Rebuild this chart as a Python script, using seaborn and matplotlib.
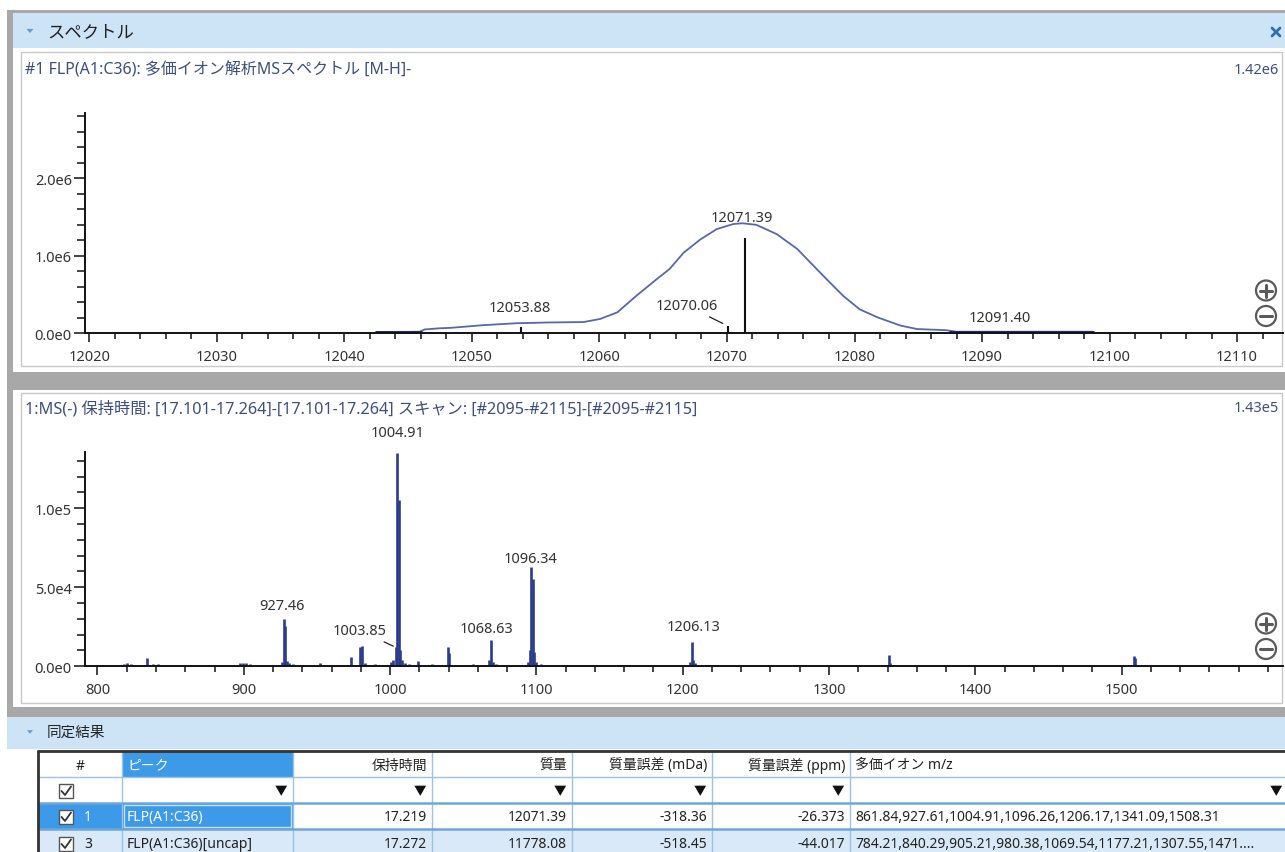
import numpy as np
import matplotlib
matplotlib.use("Agg")
import matplotlib.pyplot as plt
from matplotlib.patches import Rectangle, Circle, Polygon
from matplotlib.ticker import MultipleLocator
import seaborn as sns

# ---------------- data ----------------
deconv_title = "#1 FLP(A1:C36): 多価イオン解析MSスペクトル [M-H]-"
deconv_max_label = "1.42e6"
profile_mass = [12042.5, 12045.9, 12046.3, 12047.5, 12048.3, 12050.9, 12053.5, 12056.1,
                12058.75, 12060.05, 12061.4, 12062.9, 12064.5, 12065.5, 12066.6, 12067.9,
                12069.2, 12070.5, 12071.2, 12072.3, 12073.9, 12075.5, 12076.5, 12077.8,
                12079.1, 12080.4, 12081.8, 12083.6, 12084.9, 12087.2, 12088.0, 12098.7]
profile_intensity = [0.013e6, 0.02e6, 0.05e6, 0.065e6, 0.07e6, 0.105e6, 0.13e6, 0.14e6,
                     0.145e6, 0.185e6, 0.27e6, 0.485e6, 0.70e6, 0.83e6, 1.04e6, 1.21e6,
                     1.345e6, 1.41e6, 1.42e6, 1.40e6, 1.28e6, 1.09e6, 0.92e6, 0.70e6,
                     0.485e6, 0.31e6, 0.206e6, 0.10e6, 0.055e6, 0.04e6, 0.02e6, 0.02e6]
baseline_low_mass = [12042.5, 12046.0]
baseline_low_int = [0.012e6, 0.012e6]
baseline_high_mass = [12087.5, 12098.7]
baseline_high_int = [0.02e6, 0.02e6]
centroid_mass = [12053.88, 12070.06, 12071.39, 12091.40]
centroid_int = [0.08e6, 0.095e6, 1.235e6, 0.02e6]
deconv_xticks = [12020, 12030, 12040, 12050, 12060, 12070, 12080, 12090, 12100, 12110]
deconv_yticks = [0.0, 1.0e6, 2.0e6]
deconv_ytick_labels = ["0.0e0", "1.0e6", "2.0e6"]

ms_title = "1:MS(-) 保持時間: [17.101-17.264]-[17.101-17.264] スキャン: [#2095-#2115]-[#2095-#2115]"
ms_max_label = "1.43e5"
ms_mz = [803.5, 818.0, 820.5, 823.0, 833.6, 838.0, 841.5, 845.0, 861.8, 883.0, 897.5, 899.5,
         901.5, 904.0, 911.0, 920.0, 926.4, 927.46, 928.45, 929.5, 931.0, 933.5, 952.0, 966.8,
         973.3, 979.6, 980.6, 982.5, 990.0, 1000.5, 1002.3, 1003.85, 1004.91, 1005.92, 1006.9,
         1008.3, 1010.0, 1013.0, 1019.3, 1028.6, 1039.3, 1040.3, 1047.8, 1056.8, 1067.4,
         1068.63, 1070.0, 1072.5, 1077.0, 1094.5, 1095.4, 1096.34, 1097.35, 1098.4, 1100.0,
         1103.0, 1110.0, 1177.0, 1205.2, 1206.13, 1207.1, 1208.2, 1241.0, 1307.5, 1340.9,
         1342.0, 1471.0, 1508.4, 1509.4, 1531.0]
ms_int = [800, 1500, 2000, 1200, 5000, 1500, 1200, 1000, 800, 1000, 2000, 2200,
          1800, 1200, 800, 900, 3000, 30000, 25300, 3500, 1800, 1200, 2000, 1000,
          5700, 12000, 12700, 2000, 1200, 2500, 4000, 12000, 135000, 105000, 10500,
          4000, 2000, 1500, 3300, 1200, 12000, 8400, 1000, 1500, 4000,
          16600, 2500, 1500, 1000, 3000, 10000, 63000, 55000, 9000, 3000,
          1500, 1000, 800, 3000, 15200, 4000, 2000, 800, 800, 7200,
          2000, 800, 6500, 5000, 700]
ms_label_mz = [927.46, 1003.85, 1004.91, 1068.63, 1096.34, 1206.13]
ms_xticks = [800, 900, 1000, 1100, 1200, 1300, 1400, 1500]
ms_yticks = [0.0, 5.0e4, 1.0e5]
ms_ytick_labels = ["0.0e0", "5.0e4", "1.0e5"]

table_columns = ["#", "ピーク", "保持時間", "質量", "質量誤差 (mDa)", "質量誤差 (ppm)", "多価イオン m/z"]
row_ids = ["1", "3"]
peak_names = ["FLP(A1:C36)", "FLP(A1:C36)[uncap]"]
ret_times = ["17.219", "17.272"]
masses = ["12071.39", "11778.08"]
err_mda = ["-318.36", "-518.45"]
err_ppm = ["-26.373", "-44.017"]
ion_mz = ["861.84,927.61,1004.91,1096.26,1206.17,1341.09,1508.31",
          "784.21,840.29,905.21,980.38,1069.54,1177.21,1307.55,1471...."]

# ---------------- style ----------------
sns.set_theme(style="white")
plt.rcParams["font.family"] = ["Noto Sans", "Noto Sans CJK JP", "DejaVu Sans"]
plt.rcParams["axes.unicode_minus"] = False

W, H = 1285, 853
fig = plt.figure(figsize=(W / 100, H / 100), dpi=100)
fig.patch.set_facecolor("white")

ui = fig.add_axes([0, 0, 1, 1], zorder=0)
ui.set_xlim(0, W)
ui.set_ylim(H, 0)
ui.axis("off")

GRAY = "#a8a8a8"
HDR = "#cde4f7"
TXT = "#222222"
TITLE_C = "#3c4f7e"


def rect(x0, y0, x1, y1, fc, ec="none", lw=0.0, z=1):
    ui.add_patch(Rectangle((x0, y0), x1 - x0, y1 - y0, facecolor=fc, edgecolor=ec, lw=lw, zorder=z))


def tri_down(cx, cy, s, color):
    ui.add_patch(Polygon([[cx - s, cy - s * 0.6], [cx + s, cy - s * 0.6], [cx, cy + s * 0.6]],
                         closed=True, facecolor=color, edgecolor="none", zorder=5))


# outer frame and headers
rect(7, 11, W, 718, GRAY)
rect(13, 14, W, 373, "white")
rect(13, 391, W, 708, "white")
rect(13, 14, W, 49, HDR)
rect(21, 53, 1282, 367, "none", ec="#c9c9c9", lw=1.0, z=2)
rect(21, 394, 1282, 704, "none", ec="#c9c9c9", lw=1.0, z=2)
tri_down(30, 32, 3.5, "#6d9bc8")
ui.text(47, 32, "スペクトル", fontsize=12.5, color=TXT, ha="left", va="center",
        family=["Noto Sans CJK JP", "DejaVu Sans"])
# close mark (small bold cross)
ui.plot([1272, 1280], [29, 37], color="#2f6db5", lw=2.0, zorder=6)
ui.plot([1272, 1280], [37, 29], color="#2f6db5", lw=2.0, zorder=6)

rect(7, 718, W, 750, HDR)
tri_down(30, 733, 3.0, "#6d9bc8")
ui.text(47, 733, "同定結果", fontsize=10.5, color=TXT, ha="left", va="center")

# panel titles
ui.text(25, 70, deconv_title, fontsize=11.5, color=TITLE_C, ha="left", va="center")
ui.text(1279, 70, deconv_max_label, fontsize=10.5, color=TITLE_C, ha="right", va="center")
ui.text(25, 409, ms_title, fontsize=11.7, color=TITLE_C, ha="left", va="center")
ui.text(1279, 409, ms_max_label, fontsize=10.5, color=TITLE_C, ha="right", va="center")


def zoom_icons(cx, cy_plus, cy_minus):
    for cy, plus in ((cy_plus, True), (cy_minus, False)):
        ui.add_patch(Circle((cx, cy), 10, facecolor="white", edgecolor="#5a5a5a", lw=1.6, zorder=6))
        ui.plot([cx - 6, cx + 6], [cy, cy], color="#5a5a5a", lw=2.2, zorder=7)
        if plus:
            ui.plot([cx, cx], [cy - 6, cy + 6], color="#5a5a5a", lw=2.2, zorder=7)


zoom_icons(1266, 291.5, 317)
zoom_icons(1266, 624.5, 650)

# ---------------- table ----------------
cols_x = [38, 122, 293, 432, 572, 712, 850, W + 2]
rows_y = [752, 778, 804, 830, 858]
SEL = "#3d9ae8"
ALT = "#d9e9f8"
rect(38, 752, W, 858, "white", z=1)
rect(cols_x[1], rows_y[0], cols_x[2], rows_y[1], SEL, z=2)
rect(cols_x[0], rows_y[2], cols_x[2], rows_y[3], SEL, z=2)
rect(cols_x[1] + 2, rows_y[2] + 2, cols_x[2] - 2, rows_y[3] - 2, "none", ec="#bfe0ff", lw=1.0, z=3)
rect(cols_x[0], rows_y[3], W, rows_y[4], ALT, z=2)
for x in cols_x[1:-1]:
    ui.plot([x, x], [rows_y[0], rows_y[4]], color="#9cc3e6", lw=1.0, zorder=4)
ui.plot([cols_x[0], W], [rows_y[1], rows_y[1]], color="#9cc3e6", lw=1.0, zorder=4)
ui.plot([cols_x[0], W], [rows_y[2], rows_y[2]], color="#6fa6da", lw=1.8, zorder=4)
ui.plot([cols_x[0], W], [rows_y[3], rows_y[3]], color="#6fa6da", lw=1.8, zorder=4)
ui.plot([cols_x[0], W], [rows_y[0], rows_y[0]], color="#333333", lw=2.0, zorder=5)
ui.plot([cols_x[0], cols_x[0]], [rows_y[0], rows_y[4]], color="#333333", lw=2.0, zorder=5)


def checkbox(cx, cy):
    ui.add_patch(Rectangle((cx - 7, cy - 7), 14, 14, facecolor="white", edgecolor="#555555", lw=1.0, zorder=6))
    ui.plot([cx - 4.5, cx - 1, cx + 5], [cy, cy + 4, cy - 4.5], color="#333333", lw=1.3, zorder=7)


def ycen(r):
    return (rows_y[r] + rows_y[r + 1]) / 2 + 1


TFS = 10
# header row
ui.text((cols_x[0] + cols_x[1]) / 2, ycen(0), table_columns[0], fontsize=TFS, color=TXT, ha="center", va="center", zorder=8)
ui.text(cols_x[1] + 5, ycen(0), table_columns[1], fontsize=TFS, color="white", ha="left", va="center", zorder=8)
for c in range(2, 6):
    ui.text(cols_x[c + 1] - 5, ycen(0), table_columns[c], fontsize=TFS, color=TXT, ha="right", va="center", zorder=8)
ui.text(cols_x[6] + 5, ycen(0), table_columns[6], fontsize=TFS, color=TXT, ha="left", va="center", zorder=8)
# filter row
checkbox(66, ycen(1))
for c in range(1, 7):
    right = cols_x[c + 1] - 12 if c < 6 else W - 9
    ui.text(right, ycen(1), "▼", fontsize=9, color="#111111", ha="center", va="center", zorder=8)
# data rows
for i in range(2):
    r = i + 2
    yc = ycen(r)
    fg = "white" if i == 0 else TXT
    checkbox(66, yc)
    ui.text(84, yc, row_ids[i], fontsize=TFS, color=fg, ha="left", va="center", zorder=8)
    ui.text(cols_x[1] + 5, yc, peak_names[i], fontsize=TFS, color=fg, ha="left", va="center", zorder=8)
    for c, vals in zip(range(2, 6), (ret_times, masses, err_mda, err_ppm)):
        ui.text(cols_x[c + 1] - 5, yc, vals[i], fontsize=TFS, color=TXT, ha="right", va="center", zorder=8)
    ui.text(cols_x[6] + 5, yc, ion_mz[i], fontsize=TFS, color=TXT, ha="left", va="center", zorder=8)

# ---------------- spectrum axes ----------------
AX_L, AX_R = 85, 1283


def make_ax(top, bottom):
    ax = fig.add_axes([AX_L / W, 1 - bottom / H, (AX_R - AX_L) / W, (bottom - top) / H], zorder=3)
    ax.set_facecolor("none")
    for s in ("top", "right"):
        ax.spines[s].set_visible(False)
    for s in ("left", "bottom"):
        ax.spines[s].set_color("#111111")
        ax.spines[s].set_linewidth(1.4)
    ax.tick_params(axis="x", which="major", direction="out", length=6.5, width=1.1, pad=5,
                   labelsize=10.5, colors="#111111", labelcolor="#333333", bottom=True)
    ax.tick_params(axis="x", which="minor", direction="out", length=4.5, width=1.1, colors="#111111", bottom=True)
    ax.tick_params(axis="y", which="major", direction="out", length=8, width=1.1, pad=1.5,
                   labelsize=10.5, colors="#111111", labelcolor="#333333", left=True)
    ax.tick_params(axis="y", which="minor", direction="out", length=6, width=1.1, colors="#111111", left=True)
    ax.grid(False)
    return ax


# Panel 1: deconvoluted spectrum
ax1 = make_ax(114, 334.3)
sns.lineplot(x=profile_mass, y=profile_intensity, ax=ax1, color="#5767ab", lw=1.3)
ax1.plot(baseline_low_mass, baseline_low_int, color="#1f2d6e", lw=2.2)
ax1.plot(baseline_high_mass, baseline_high_int, color="#1f2d6e", lw=2.2)
ax1.vlines(centroid_mass, 0, centroid_int, color="#111111", lw=1.5, zorder=4)
ax1.set_xlim(12019.66, 12113.6)
ax1.set_ylim(0, 2.843e6)
ax1.set_xticks(deconv_xticks, labels=[str(v) for v in deconv_xticks])
ax1.set_yticks(deconv_yticks, labels=deconv_ytick_labels)
ax1.xaxis.set_minor_locator(MultipleLocator(2))
ax1.yaxis.set_minor_locator(MultipleLocator(0.2e6))
ax1.set_xlabel("")
ax1.set_ylabel("")

deconv_label_offsets = [(-1.2, 11.4), (-29.7, 12.2), (-2.0, 12.2), (0.0, 7.5)]
leader_1 = [False, True, False, False]
for m, h, off, ld in zip(centroid_mass, centroid_int, deconv_label_offsets, leader_1):
    kw = {}
    if ld:
        kw["arrowprops"] = dict(arrowstyle="-", color="#222222", lw=0.9, shrinkA=1, shrinkB=4)
    ax1.annotate(f"{m:.2f}", xy=(m, h), xytext=off, textcoords="offset points",
                 ha="center", va="baseline", fontsize=10.5, color="#333333", **kw)

# Panel 2: raw MS spectrum
ax2 = make_ax(452.7, 667.3)
ax2.vlines(ms_mz, 0, ms_int, color="#2b3c8e", lw=1.9)
ax2.set_xlim(791.46, 1610.3)
ax2.set_ylim(0, 1.358e5)
ax2.set_xticks(ms_xticks, labels=[str(v) for v in ms_xticks])
ax2.set_yticks(ms_yticks, labels=ms_ytick_labels)
ax2.xaxis.set_minor_locator(MultipleLocator(20))
ax2.yaxis.set_minor_locator(MultipleLocator(1e4))

ms_label_offsets = [(-1.4, 7.2), (-25.9, 9.6), (0.0, 12.2), (-2.9, 6.0), (-0.7, 3.6), (1.2, 9.1)]
leader_2 = [False, True, False, False, False, False]
for m, off, ld in zip(ms_label_mz, ms_label_offsets, leader_2):
    h = ms_int[int(np.argmin(np.abs(np.array(ms_mz) - m)))]
    kw = {}
    if ld:
        kw["arrowprops"] = dict(arrowstyle="-", color="#222222", lw=0.9, shrinkA=1, shrinkB=2)
    ax2.annotate(f"{m:.2f}", xy=(m, h), xytext=off, textcoords="offset points",
                 ha="center", va="baseline", fontsize=10.5, color="#333333", **kw)

fig.savefig("out.png", dpi=100, facecolor="white")
